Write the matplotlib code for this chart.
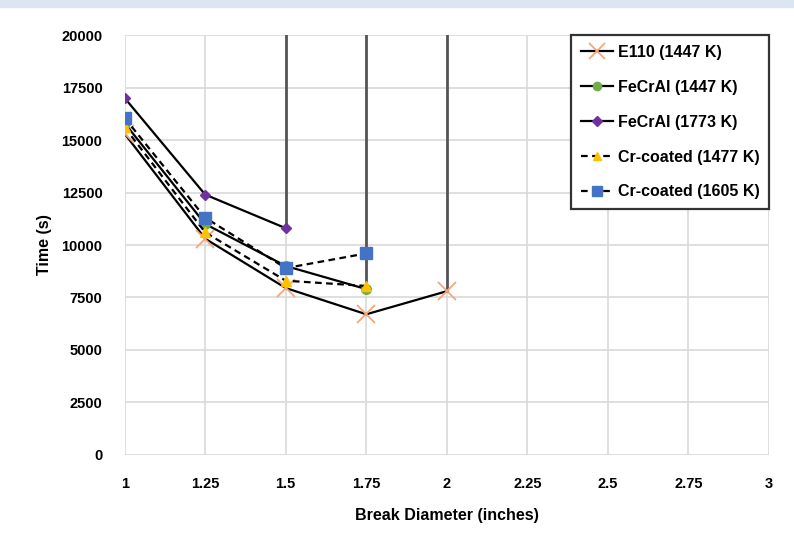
import matplotlib.pyplot as plt
from matplotlib.patches import Rectangle

plt.rcParams['font.family'] = ['Liberation Sans', 'DejaVu Sans']
plt.rcParams['font.weight'] = 'bold'
plt.rcParams['axes.labelweight'] = 'bold'

# break diameter (inches) and time (s) for each cladding case
x_e110 = [1.0, 1.25, 1.5, 1.75, 2.0]
t_e110 = [15300, 10300, 7950, 6700, 7800]

x_fecral_1447 = [1.0, 1.25, 1.5, 1.75]
t_fecral_1447 = [15800, 11000, 9000, 7900]

x_fecral_1773 = [1.0, 1.25, 1.5]
t_fecral_1773 = [17000, 12400, 10800]

x_cr_1477 = [1.0, 1.25, 1.5, 1.75]
t_cr_1477 = [15600, 10600, 8300, 8050]

x_cr_1605 = [1.0, 1.25, 1.5, 1.75]
t_cr_1605 = [16050, 11300, 8900, 9600]

# break sizes where the run did not reach failure (line up to the top)
x_limit = [1.5, 1.75, 2.0]
t_limit_lo = [10800, 8000, 7800]
t_top = 20000

xticks = [1, 1.25, 1.5, 1.75, 2, 2.25, 2.5, 2.75, 3]
xticklabels = ['1', '1.25', '1.5', '1.75', '2', '2.25', '2.5', '2.75', '3']
yticks = list(range(0, 20001, 2500))

fig = plt.figure(figsize=(7.94, 5.56), dpi=100)
fig.patches.append(Rectangle((0, 1 - 7 / 556), 1, 7 / 556, transform=fig.transFigure,
                             color='#dce6f2', zorder=0))
ax = fig.add_axes([0.157, 0.1817, 0.8115, 0.7553])

for x, lo in zip(x_limit, t_limit_lo):
    ax.plot([x, x], [lo, t_top], color='#555555', linewidth=2.0, zorder=2)

ax.plot(x_e110, t_e110, color='black', linewidth=1.6, marker='x', markersize=13,
        markeredgecolor='#f4a57a', markeredgewidth=1.3, label='E110 (1447 K)', zorder=3)
ax.plot(x_fecral_1447, t_fecral_1447, color='black', linewidth=1.6, marker='o', markersize=7,
        markerfacecolor='#70ad47', markeredgecolor='#70ad47', label='FeCrAl (1447 K)', zorder=3)
ax.plot(x_fecral_1773, t_fecral_1773, color='black', linewidth=1.6, marker='D', markersize=5.5,
        markerfacecolor='#7030a0', markeredgecolor='#7030a0', label='FeCrAl (1773 K)', zorder=3)
ax.plot(x_cr_1477, t_cr_1477, color='black', linewidth=1.6, linestyle=(0, (3, 2)), marker='^',
        markersize=7.5, markerfacecolor='#ffc000', markeredgecolor='#ffc000',
        label='Cr-coated (1477 K)', zorder=3)
ax.plot(x_cr_1605, t_cr_1605, color='black', linewidth=1.6, linestyle=(0, (3, 2)), marker='s',
        markersize=8, markerfacecolor='#4472c4', markeredgecolor='#4472c4',
        label='Cr-coated (1605 K)', zorder=4)

ax.set_xlim(1, 3)
ax.set_ylim(0, 20000)
ax.set_xticks(xticks)
ax.set_xticklabels(xticklabels)
ax.set_yticks(yticks)
ax.grid(True, color='#d9d9d9', linewidth=1.2)
ax.set_axisbelow(True)
for s in ax.spines.values():
    s.set_visible(False)
ax.tick_params(length=0, labelsize=10.5, pad=16)
ax.tick_params(axis='y', pad=16)

ax.set_xlabel('Break Diameter (inches)', fontsize=11.5, labelpad=12)
ax.set_ylabel('Time (s)', fontsize=11.5, labelpad=7)

leg = ax.legend(loc='upper right', bbox_to_anchor=(1.0, 1.0), borderaxespad=0,
                fontsize=11.5, frameon=True, fancybox=False, edgecolor='#333333',
                framealpha=1, handlelength=2.0, handletextpad=0.3, borderpad=0.6,
                labelspacing=1.25, markerscale=0.85)
leg.get_frame().set_linewidth(1.6)

fig.savefig('out.png', dpi=100)
